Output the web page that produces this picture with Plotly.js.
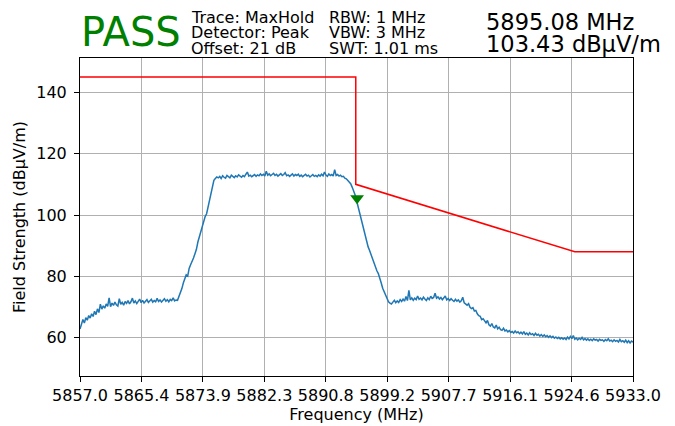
<!DOCTYPE html>
<html>
<head>
<meta charset="utf-8">
<script src="https://cdn.plot.ly/plotly-3.0.1.min.js"></script>
<style>
  html, body { margin: 0; padding: 0; background: #ffffff; }
  #chart { width: 675px; height: 426px; }
</style>
</head>
<body>
<div id="chart"></div>
<script>
// ---- Data ----
const sweepStartMHz = 5857.0;
const sweepStepMHz = 0.2;

// Measured field strength (dBµV/m), one value per 0.2 MHz from 5857.0 to 5933.0
const traceLevels = [
  62.8, 64.5, 65.9, 64.8, 66.5,   // 5857
  65.7, 67.2, 66.4, 67.8, 66.9,   // 5858
  68.6, 67.5, 69.4, 68.2, 70.9,   // 5859
  69.3, 70.4, 69.6, 71.0, 70.2,   // 5860
  73.0, 70.1, 71.3, 70.5, 71.6,   // 5861
  70.7, 70.3, 72.7, 70.9, 71.5,   // 5862
  70.6, 71.8, 71.2, 72.1, 71.0,   // 5863
  71.7, 72.9, 71.3, 72.0, 71.1,   // 5864
  71.9, 72.6, 71.4, 72.2, 71.3,   // 5865
  71.8, 72.4, 71.5, 71.9, 72.5,   // 5866
  71.6, 72.1, 71.7, 72.8, 71.8,   // 5867
  72.3, 71.6, 72.2, 72.7, 71.9,   // 5868
  72.4, 71.7, 72.5, 72.1, 73.0,   // 5869
  72.0, 72.3, 72.2, 73.4, 74.2,   // 5870
  76.0, 77.8, 79.2, 80.5, 80.1,   // 5871
  82.6, 83.8, 84.7, 86.0, 87.4,   // 5872
  88.8, 91.2, 92.9, 94.1, 95.8,   // 5873
  97.6, 99.5, 100.4, 102.8, 105.2, // 5874
  107.5, 109.8, 111.3, 111.9, 112.4, // 5875
  112.1, 112.6, 111.9, 112.8, 112.3, // 5876
  112.0, 112.9, 112.4, 112.1, 113.0, // 5877
  112.5, 112.2, 112.8, 112.4, 113.1, // 5878
  112.6, 112.3, 112.9, 112.5, 113.3, // 5879
  114.0, 112.7, 113.0, 112.5, 112.9, // 5880
  113.2, 112.6, 113.1, 112.8, 113.4, // 5881
  112.9, 113.3, 112.7, 114.3, 113.0, // 5882
  113.4, 112.8, 113.2, 113.6, 112.9, // 5883
  113.3, 112.7, 113.1, 113.5, 112.9, // 5884
  113.2, 113.8, 112.8, 113.1, 112.6, // 5885
  113.0, 113.4, 112.7, 113.2, 112.9, // 5886
  113.3, 112.6, 113.0, 112.5, 112.9, // 5887
  113.3, 112.7, 113.0, 112.4, 112.8, // 5888
  113.2, 112.6, 112.9, 112.5, 113.1, // 5889
  112.7, 113.3, 112.8, 114.0, 113.0, // 5890
  112.6, 113.4, 112.9, 113.2, 112.7, // 5891
  114.8, 112.9, 113.2, 112.7, 113.0, // 5892
  112.5, 112.6, 112.0, 111.8, 111.3, // 5893
  111.0, 110.2, 109.1, 107.9, 106.6, // 5894
  104.8, 102.9, 100.7, 99.1, 97.0,   // 5895
  94.8, 93.5, 91.0, 89.6, 88.4,   // 5896
  87.0, 85.8, 84.9, 83.2, 81.8,   // 5897
  80.9, 78.9, 77.8, 76.1, 74.9,   // 5898
  73.6, 72.4, 71.7, 71.3, 71.0,   // 5899
  71.6, 72.2, 71.4, 72.0, 71.5,   // 5900
  72.4, 71.8, 72.6, 71.9, 73.4,   // 5901
  72.1, 75.4, 72.3, 73.0, 72.2,   // 5902
  72.9, 72.4, 73.6, 72.5, 72.9,   // 5903
  72.3, 73.2, 72.6, 72.1, 73.0,   // 5904
  72.4, 73.5, 72.8, 73.1, 74.5,   // 5905
  72.9, 73.3, 72.6, 73.1, 72.4,   // 5906
  72.9, 73.6, 72.3, 72.8, 72.1,   // 5907
  72.7, 72.2, 71.8, 72.5, 71.9,   // 5908
  72.3, 71.6, 72.0, 73.2, 71.4,   // 5909
  71.0, 70.6, 71.1, 69.9, 69.5,   // 5910
  69.8, 68.7, 68.9, 67.8, 67.2,   // 5911
  67.0, 65.9, 66.2, 65.3, 64.8,   // 5912
  65.6, 64.2, 63.8, 64.6, 63.5,   // 5913
  63.2, 64.1, 62.9, 63.4, 62.6,   // 5914
  62.4, 63.1, 62.2, 62.5, 61.9,   // 5915
  62.3, 61.7, 62.0, 61.5, 62.2,   // 5916
  61.6, 61.9, 61.3, 61.8, 61.2,   // 5917
  62.0, 61.1, 61.5, 60.9, 61.6,   // 5918
  61.0, 61.3, 60.7, 61.4, 60.8,   // 5919
  61.1, 60.5, 61.0, 60.4, 60.9,   // 5920
  60.3, 60.7, 60.1, 60.6, 60.0,   // 5921
  60.4, 59.8, 60.2, 59.7, 60.1,   // 5922
  59.6, 60.0, 59.5, 59.9, 59.4,   // 5923
  60.2, 59.6, 60.4, 59.7, 60.7,   // 5924
  59.5, 59.9, 59.3, 59.8, 59.4,   // 5925
  60.1, 59.3, 59.7, 59.2, 59.6,   // 5926
  59.1, 59.5, 59.0, 59.6, 59.2,   // 5927
  59.4, 58.9, 59.5, 59.1, 59.3,   // 5928
  58.8, 59.4, 59.0, 59.6, 58.9,   // 5929
  59.2, 58.7, 59.3, 58.8, 59.1,   // 5930
  58.6, 59.4, 58.7, 59.0, 58.5,   // 5931
  59.2, 58.4, 59.0, 58.3, 58.9,   // 5932
  58.5                            // 5933
];

// Limit mask
const limitFreq  = [5857.0, 5894.9, 5894.9, 5925.0, 5933.0];
const limitLevel = [145, 145, 110, 88, 88];

// Peak marker (as drawn in the picture)
const markerFreq  = [5895.08];
const markerLevel = [105.5];

// Axis ticks
const xTickVals = [5857.0, 5865.444, 5873.889, 5882.333, 5890.778, 5899.222, 5907.667, 5916.111, 5924.556, 5933.0];
const xTickText = ['5857.0', '5865.4', '5873.9', '5882.3', '5890.8', '5899.2', '5907.7', '5916.1', '5924.6', '5933.0'];
const yTickVals = [60, 80, 100, 120, 140];

// Header texts
const statusText = 'PASS';
const infoCol1 = ['Trace: MaxHold', 'Detector: Peak', 'Offset: 21 dB'];
const infoCol2 = ['RBW: 1 MHz', 'VBW: 3 MHz', 'SWT: 1.01 ms'];
const markerReadout = ['5895.08 MHz', '103.43 dBµV/m'];

// ---- Build ----
const traceFreq = traceLevels.map((_, i) => sweepStartMHz + i * sweepStepMHz);

const W = 675, H = 426;
const M = { l: 80, r: 42, t: 58, b: 50 };
const pw = W - M.l - M.r, ph = H - M.t - M.b;
const px2x = (px) => (px - M.l) / pw;
const py2y = (py) => (H - M.b - py) / ph;

const FONT = 'DejaVu Sans, Liberation Sans, sans-serif';

const annotations = [];
annotations.push({
  text: statusText, xref: 'paper', yref: 'paper',
  x: px2x(79), y: py2y(31.5), xanchor: 'left', yanchor: 'middle',
  showarrow: false, font: { family: FONT, size: 40, color: '#008000' }
});
const lineY = [17.5, 33, 48.5];
infoCol1.forEach((t, i) => annotations.push({
  text: t, xref: 'paper', yref: 'paper',
  x: px2x(189), y: py2y(lineY[i]), xanchor: 'left', yanchor: 'middle',
  showarrow: false, font: { family: FONT, size: 16, color: '#000' }
}));
infoCol2.forEach((t, i) => annotations.push({
  text: t, xref: 'paper', yref: 'paper',
  x: px2x(327), y: py2y(lineY[i]), xanchor: 'left', yanchor: 'middle',
  showarrow: false, font: { family: FONT, size: 16, color: '#000' }
}));
const readY = [22.5, 44.5];
markerReadout.forEach((t, i) => annotations.push({
  text: t, xref: 'paper', yref: 'paper',
  x: px2x(484), y: py2y(readY[i]), xanchor: 'left', yanchor: 'middle',
  showarrow: false, font: { family: FONT, size: 22.5, color: '#000' }
}));

const data = [
  {
    x: traceFreq, y: traceLevels, type: 'scatter', mode: 'lines',
    line: { color: '#1f77b4', width: 1.5 }, hoverinfo: 'skip'
  },
  {
    x: limitFreq, y: limitLevel, type: 'scatter', mode: 'lines',
    line: { color: '#ff0000', width: 1.5 }, hoverinfo: 'skip'
  },
  {
    x: markerFreq, y: markerLevel, type: 'scatter', mode: 'markers',
    marker: { symbol: 'triangle-down', size: 12, color: '#008000' }, hoverinfo: 'skip'
  }
];

const axisCommon = {
  showline: true, mirror: true, linecolor: '#000', linewidth: 1,
  showgrid: true, gridcolor: '#b0b0b0', gridwidth: 1,
  zeroline: false, ticks: 'outside', ticklen: 5, tickwidth: 1, tickcolor: '#000',
  tickfont: { family: FONT, size: 16, color: '#000' }
};

const layout = {
  width: W, height: H,
  margin: { l: M.l, r: M.r, t: M.t, b: M.b, pad: 0 },
  paper_bgcolor: '#ffffff', plot_bgcolor: '#ffffff',
  showlegend: false,
  font: { family: FONT, size: 16, color: '#000' },
  xaxis: Object.assign({}, axisCommon, {
    range: [5857.0, 5933.0], tickmode: 'array', tickvals: xTickVals, ticktext: xTickText,
    title: { text: 'Frequency (MHz)', font: { family: FONT, size: 16, color: '#000' }, standoff: 4 },
    automargin: false
  }),
  yaxis: Object.assign({}, axisCommon, {
    range: [47.5, 151.2], tickmode: 'array', tickvals: yTickVals,
    ticklabelstandoff: 4,
    title: { text: 'Field Strength (dBµV/m)', font: { family: FONT, size: 16, color: '#000' }, standoff: 6 },
    automargin: false
  }),
  annotations: annotations
};

Plotly.newPlot('chart', data, layout, { staticPlot: true, displayModeBar: false });
</script>
</body>
</html>
